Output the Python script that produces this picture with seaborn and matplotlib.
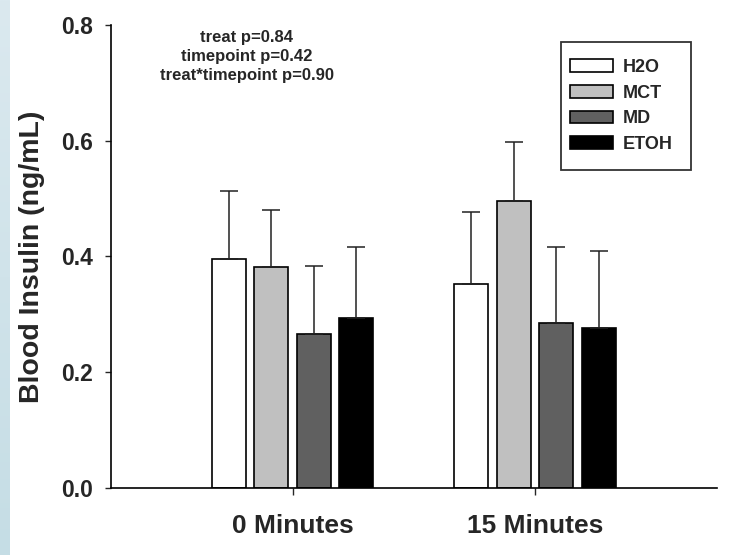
import numpy as np
import pandas as pd
import matplotlib
matplotlib.use("Agg")
import matplotlib.pyplot as plt
from matplotlib.patches import Rectangle
from matplotlib.colors import LinearSegmentedColormap
import seaborn as sns

# ---- data ----
timepoints = ["0 Minutes", "15 Minutes"]
treatments = ["H2O", "MCT", "MD", "ETOH"]
h2o_mean = [0.395, 0.352]
mct_mean = [0.382, 0.495]
md_mean = [0.266, 0.284]
etoh_mean = [0.293, 0.276]
h2o_err = [0.118, 0.125]
mct_err = [0.098, 0.102]
md_err = [0.118, 0.133]
etoh_err = [0.124, 0.133]
bar_colors = ["#ffffff", "#c0c0c0", "#606060", "#000000"]
yticks = [0.0, 0.2, 0.4, 0.6, 0.8]
stats_text = "treat p=0.84\ntimepoint p=0.42\ntreat*timepoint p=0.90"

means = [h2o_mean, mct_mean, md_mean, etoh_mean]
errs = [h2o_err, mct_err, md_err, etoh_err]
rows = []
for t, m_list, e_list in zip(treatments, means, errs):
    for tp, m, e in zip(timepoints, m_list, e_list):
        rows.append({"time": tp, "treat": t, "value": m, "err": e})
df = pd.DataFrame(rows)

sns.set_theme(style="ticks")
plt.rcParams["font.family"] = ["Liberation Sans", "DejaVu Sans"]
plt.rcParams["font.weight"] = "bold"

W, H = 730, 555
fig = plt.figure(figsize=(W / 100, H / 100), dpi=100)
fig.patch.set_facecolor("white")

# left light-blue strip
strip = fig.add_axes([0, 0, 10 / W, 1])
grad = np.linspace(0, 1, 256).reshape(-1, 1)
cmap = LinearSegmentedColormap.from_list("s", ["#dbe9ef", "#c5dde5"])
strip.imshow(grad, aspect="auto", cmap=cmap, extent=[0, 1, 0, 1], origin="upper")
strip.axis("off")

ax = fig.add_axes([110.7 / W, 1 - 487.7 / H, (717 - 110.7) / W, (487.7 - 25) / H])
sns.barplot(data=df, x="time", y="value", hue="treat", order=timepoints,
            hue_order=treatments, palette=bar_colors, saturation=1,
            width=0.7, gap=0.2, edgecolor="black", linewidth=1.2,
            errorbar=None, ax=ax)

# one-sided (upper) error bars placed at the bar centres
bars = [p for p in ax.patches if p.get_height() > 0]
xs, ys, es = [], [], []
n_t = len(timepoints)
for i, t in enumerate(treatments):
    for j, tp in enumerate(timepoints):
        p = bars[i * n_t + j]
        row = df[(df.treat == t) & (df.time == tp)].iloc[0]
        xs.append(p.get_x() + p.get_width() / 2)
        ys.append(row.value)
        es.append(row.err)
ax.errorbar(xs, ys, yerr=[np.zeros(len(es)), es], fmt="none", ecolor="#222222",
            elinewidth=1.1, capsize=6.3, capthick=1.1, zorder=1)

ax.set_xlim(-0.75, 1.75)
ax.set_ylim(0, 0.8)
ax.set_yticks(yticks)
ax.set_yticklabels([f"{v:.1f}" for v in yticks])
ax.set_xlabel("")
ax.set_ylabel("Blood Insulin (ng/mL)", fontsize=20.5, fontweight="bold", labelpad=11)
ax.tick_params(axis="y", labelsize=16.5, length=4.5, width=1, pad=8.5, direction="out")
ax.tick_params(axis="x", labelsize=19, length=5, width=1, pad=14, direction="out")
for lab in ax.get_xticklabels() + ax.get_yticklabels():
    lab.set_fontweight("bold")
sns.despine(ax=ax)
for s in ["left", "bottom"]:
    ax.spines[s].set_linewidth(1.2)
    ax.spines[s].set_color("black")
ax.set_facecolor("white")

handles, labels = ax.get_legend_handles_labels()
leg = ax.legend(handles, labels, loc="upper left",
                bbox_to_anchor=(570 / W, 1 - 59 / H), bbox_transform=fig.transFigure,
                prop={"weight": "bold", "size": 13}, frameon=False,
                handlelength=2.38, handleheight=0.68, labelspacing=0.48,
                borderpad=0, handletextpad=0.52, borderaxespad=0)
fig.patches.append(Rectangle((561 / W, 1 - 170 / H), 130 / W, 128 / H,
                             transform=fig.transFigure, fill=False,
                             edgecolor="#333333", linewidth=1.3))

fig.text(247 / W, 1 - 30 / H, stats_text, ha="center", va="top",
         multialignment="center", fontsize=12, fontweight="bold", linespacing=1.35)

fig.savefig("out.png", dpi=100, facecolor="white")
